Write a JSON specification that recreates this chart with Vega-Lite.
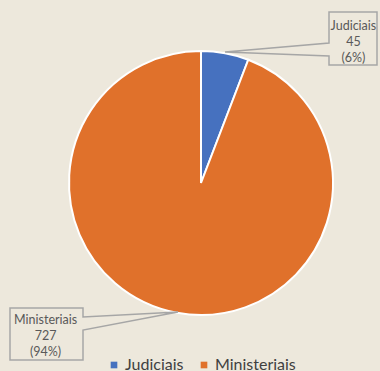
{
  "$schema": "https://vega.github.io/schema/vega-lite/v6.json",
  "width": 358,
  "height": 366,
  "autosize": {"type": "none"},
  "padding": {"left": 22, "top": 0, "right": 0, "bottom": 5},
  "background": "#EDE8DC",
  "config": {"view": {"stroke": null}, "font": "Lato"},
  "data": {"values": [
    {"cat": "Judiciais", "n": 45},
    {"cat": "Ministeriais", "n": 727}
  ]},
  "transform": [
    {"joinaggregate": [{"op": "sum", "field": "n", "as": "total"}]},
    {"calculate": "[datum.cat, format(datum.n, 'd'), '(' + format(datum.n / datum.total, '.0%') + ')']", "as": "label"}
  ],
  "encoding": {
    "theta": {"field": "n", "type": "quantitative", "stack": true},
    "color": {
      "field": "cat", "type": "nominal", "title": null,
      "scale": {"domain": ["Judiciais", "Ministeriais"], "range": ["#4671BF", "#E0712B"]},
      "legend": {
        "orient": "none", "direction": "horizontal", "legendX": 84, "legendY": 357,
        "symbolType": "square", "symbolSize": 44, "symbolStrokeWidth": 0,
        "labelFont": "Lato", "labelFontSize": 16, "labelColor": "#404040",
        "labelOffset": 3, "columnPadding": 12, "padding": 0
      }
    }
  },
  "layer": [
    {"mark": {"type": "arc", "outerRadius": 132, "stroke": "white", "strokeWidth": 2}},
    {
      "mark": {
        "type": "text", "radius": 145, "font": "Lato", "fontSize": 12.5, "color": "#595959",
        "align": "center", "baseline": "middle", "lineHeight": 16,
        "dx": {"expr": "datum.cat === 'Judiciais' ? 126 : -129"},
        "dy": {"expr": "datum.cat === 'Judiciais' ? -14 : -6"}
      },
      "encoding": {"text": {"field": "label"}, "color": {"value": "#595959"}}
    },
    {
      "data": {"values": [{"k": 1}]},
      "mark": {
        "type": "point", "filled": false, "size": 4, "stroke": "#A6A6A6", "strokeWidth": 1.5, "opacity": 1,
        "shape": "M128,-171H176V-118H128V-127L24,-131L128,-140Z M-191,125H-118V134L-23,129L-118,147V177H-191Z"
      },
      "encoding": {"theta": null, "color": null}
    }
  ]
}
